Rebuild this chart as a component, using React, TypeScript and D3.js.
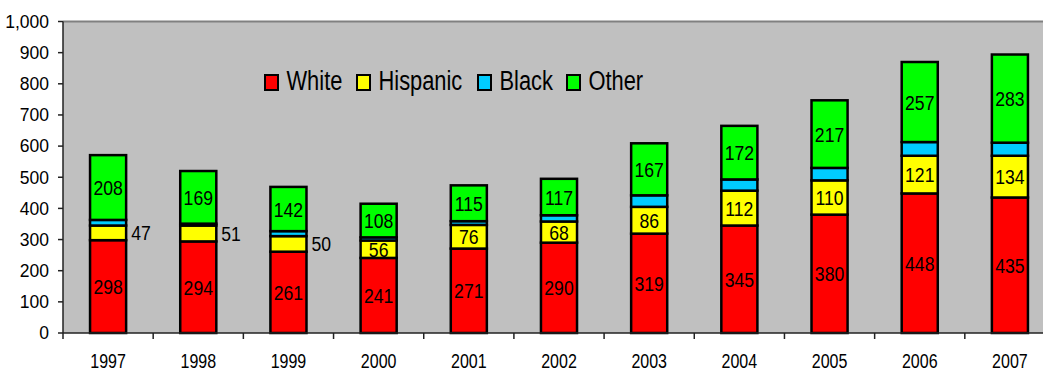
import React from "react";
import * as d3 from "d3";

// Categories and series values
const years = ["1997", "1998", "1999", "2000", "2001", "2002", "2003", "2004", "2005", "2006", "2007"];
const white = [298, 294, 261, 241, 271, 290, 319, 345, 380, 448, 435];
const hispanic = [47, 51, 50, 56, 76, 68, 86, 112, 110, 121, 134];
const black = [18, 6, 16, 10, 12, 20, 37, 36, 40, 44, 42];
const other = [208, 169, 142, 108, 115, 117, 167, 172, 217, 257, 283];

const seriesNames = ["White", "Hispanic", "Black", "Other"];
const seriesColors = ["#FF0000", "#FFFF00", "#00CCFF", "#00FF00"];
const seriesValues = [white, hispanic, black, other];
const labelledSeries = [true, true, false, true];
const yTicks = [0, 100, 200, 300, 400, 500, 600, 700, 800, 900, 1000];

const W = 1043;
const H = 371;
const plotLeft = 63;
const plotRight = 1055;
const plotTop = 21.5;
const plotBottom = 333;
const FONT = "'Liberation Sans', Arial, sans-serif";

export default function App() {
  const rows = years.map((y, i) => {
    const r: Record<string, any> = { year: y };
    seriesNames.forEach((s, k) => (r[s] = seriesValues[k][i]));
    return r;
  });
  const stack = d3.stack<any>().keys(seriesNames)(rows);

  const x = d3.scaleBand<string>().domain(years).range([plotLeft, plotRight]).padding(0);
  const y = d3.scaleLinear().domain([0, 1000]).range([plotBottom, plotTop]);
  const bw = x.bandwidth() * 0.4;
  const fmt = d3.format(",");

  const legendX = [265, 357, 478, 567];

  return (
    <div style={{ position: "absolute", left: 0, top: 0 }}>
      <svg width={W} height={H} style={{ display: "block" }} fontFamily={FONT}>
        <rect x={0} y={0} width={W} height={H} fill="#ffffff" />
        {/* plot background */}
        <rect x={plotLeft} y={plotTop} width={W - plotLeft} height={plotBottom - plotTop} fill="#C0C0C0" />
        <line x1={plotLeft} x2={W} y1={plotTop} y2={plotTop} stroke="#808080" strokeWidth={2} />

        {/* bars */}
        {stack.map((layer, k) =>
          layer.map((d, i) => {
            const x0 = (x(years[i]) as number) + (x.bandwidth() - bw) / 2;
            return (
              <rect
                key={`${k}-${i}`}
                x={x0}
                y={y(d[1])}
                width={bw}
                height={y(d[0]) - y(d[1])}
                fill={seriesColors[k]}
                stroke="#000"
                strokeWidth={2.5}
              />
            );
          })
        )}

        {/* value labels */}
        {stack.map((layer, k) =>
          labelledSeries[k]
            ? layer.map((d, i) => {
                const v = seriesValues[k][i];
                const cx = (x(years[i]) as number) + x.bandwidth() / 2;
                const cy = (y(d[0]) + y(d[1])) / 2;
                const outside = k === 1 && v < 55;
                const tx = outside ? cx + bw / 2 + 5 : cx;
                return (
                  <text
                    key={`l${k}-${i}`}
                    transform={`translate(${tx},${cy}) scale(0.84,1)`}
                    textAnchor={outside ? "start" : "middle"}
                    dy="0.36em"
                    fontSize={21}
                    fill="#000"
                  >
                    {v}
                  </text>
                );
              })
            : null
        )}

        {/* y axis */}
        <line x1={plotLeft} x2={plotLeft} y1={plotTop} y2={plotBottom + 6} stroke="#222" strokeWidth={1.5} />
        {yTicks.map((t) => (
          <g key={t}>
            <line x1={plotLeft - 5} x2={plotLeft} y1={y(t)} y2={y(t)} stroke="#222" strokeWidth={1.5} />
            <text x={plotLeft - 14} y={y(t)} dy="0.36em" textAnchor="end" fontSize={17.5} fill="#000">
              {fmt(t)}
            </text>
          </g>
        ))}

        {/* x axis */}
        <line x1={plotLeft} x2={W} y1={plotBottom} y2={plotBottom} stroke="#222" strokeWidth={1.5} />
        {years.map((yr) => {
          const bx = x(yr) as number;
          return (
            <g key={yr}>
              <line x1={bx + x.bandwidth()} x2={bx + x.bandwidth()} y1={plotBottom} y2={plotBottom + 6} stroke="#222" strokeWidth={1.5} />
              <text
                transform={`translate(${bx + x.bandwidth() / 2},368) scale(0.8,1)`}
                textAnchor="middle"
                fontSize={20}
                fill="#000"
              >
                {yr}
              </text>
            </g>
          );
        })}

        {/* legend */}
        {seriesNames.map((s, k) => (
          <g key={s}>
            <rect x={legendX[k]} y={75} width={13} height={15} fill={seriesColors[k]} stroke="#000" strokeWidth={2} />
            <text transform={`translate(${legendX[k] + 21.5},90) scale(0.81,1)`} fontSize={27} fill="#000">
              {s}
            </text>
          </g>
        ))}
      </svg>
    </div>
  );
}
